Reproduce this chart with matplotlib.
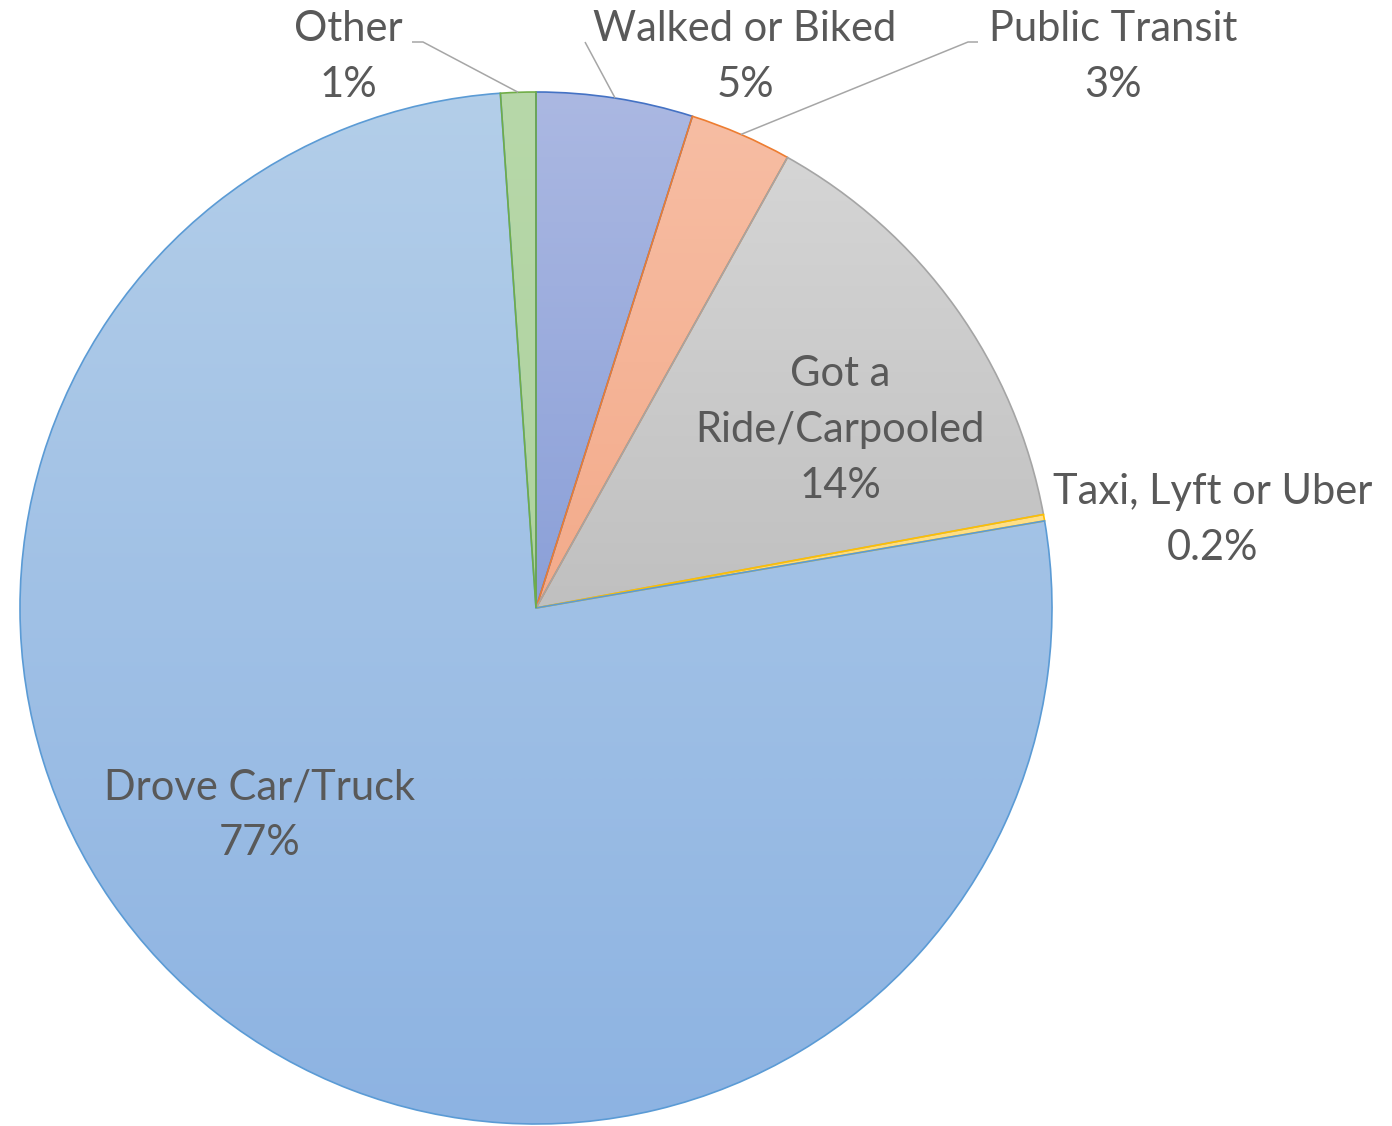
import numpy as np
import matplotlib
matplotlib.use("Agg")
import matplotlib.pyplot as plt
from matplotlib.colors import LinearSegmentedColormap

# data (clockwise from 12 o'clock)
categories = ["Walked or Biked", "Public Transit", "Got a\nRide/Carpooled",
              "Taxi, Lyft or Uber", "Drove Car/Truck", "Other"]
shares = [4.9, 3.2, 14.0, 0.2, 76.6, 1.1]
pct_labels = ["5%", "3%", "14%", "0.2%", "77%", "1%"]

# style: gradient top/bottom colours and outline colour per slice
grad_top = ["#abb8e2", "#f7bda3", "#d5d5d5", "#ffe08a", "#b3cee9", "#b7d8a9"]
grad_bot = ["#8ba0d8", "#f3ab8b", "#c0c0c0", "#ffd766", "#8db3e2", "#afd29f"]
edge_cols = ["#4472c4", "#ed7d31", "#a5a5a5", "#ffc000", "#5b9bd5", "#70ad47"]

W, H = 1392, 1126
cx, cy, R = 536, 608, 516          # pie centre / radius in pixels (y down)

# label layout (pixel centre of text, y down)
label_pos = [(745, 57), (1113, 57), (840, 430), (1213, 520), (260, 815), (348, 57)]
# leader lines: start point and optional elbow (None = no leader)
leader = [((585, 42), None), ((978, 42), (968, 42)), None, None, None,
          ((412, 42), (423, 42))]

TXT = "#595959"
plt.rcParams['font.family'] = ['Lato', 'DejaVu Sans']

fig = plt.figure(figsize=(W / 100, H / 100), dpi=100)
ax = fig.add_axes([0, 0, 1, 1])


def py(y):
    return H - y


wedges, _ = ax.pie(shares, startangle=90, counterclock=False,
                   center=(cx, py(cy)), radius=R,
                   wedgeprops=dict(linewidth=0))
ax.set_xlim(0, W)
ax.set_ylim(0, H)
ax.set_aspect('equal')
ax.axis('off')

for i, w in enumerate(wedges):
    w.set_facecolor('none')
    verts = w.get_path().vertices
    x0, x1 = verts[:, 0].min(), verts[:, 0].max()
    y0, y1 = verts[:, 1].min(), verts[:, 1].max()
    cmap = LinearSegmentedColormap.from_list("g%d" % i, [grad_bot[i], grad_top[i]])
    grad = np.linspace(0, 1, 256).reshape(-1, 1)
    im = ax.imshow(grad, cmap=cmap, extent=(x0, x1, y0, y1), origin='lower',
                   aspect='auto', zorder=1, interpolation='bilinear')
    im.set_clip_path(w)
    w.set_edgecolor(edge_cols[i])
    w.set_linewidth(1.2)
    w.set_zorder(2)

# labels and leader lines
total = sum(shares)
cum = 0
for i, w in enumerate(wedges):
    mid = 90 - (cum + shares[i] / 2) / total * 360
    cum += shares[i]
    lx, ly = label_pos[i]
    ax.text(lx, py(ly), categories[i] + "\n" + pct_labels[i], ha='center', va='center',
            multialignment='center', fontsize=30, color=TXT, linespacing=1.58, zorder=4)
    if leader[i] is not None:
        start, elbow = leader[i]
        ex = cx + R * np.cos(np.radians(mid))
        ey = py(cy) + R * np.sin(np.radians(mid))
        xs = [start[0]]
        ys = [py(start[1])]
        if elbow is not None:
            xs.append(elbow[0])
            ys.append(py(elbow[1]))
        xs.append(ex)
        ys.append(ey)
        ax.plot(xs, ys, color="#a6a6a6", lw=1.1, zorder=3, solid_capstyle='butt')

fig.savefig("out.png", dpi=100)
